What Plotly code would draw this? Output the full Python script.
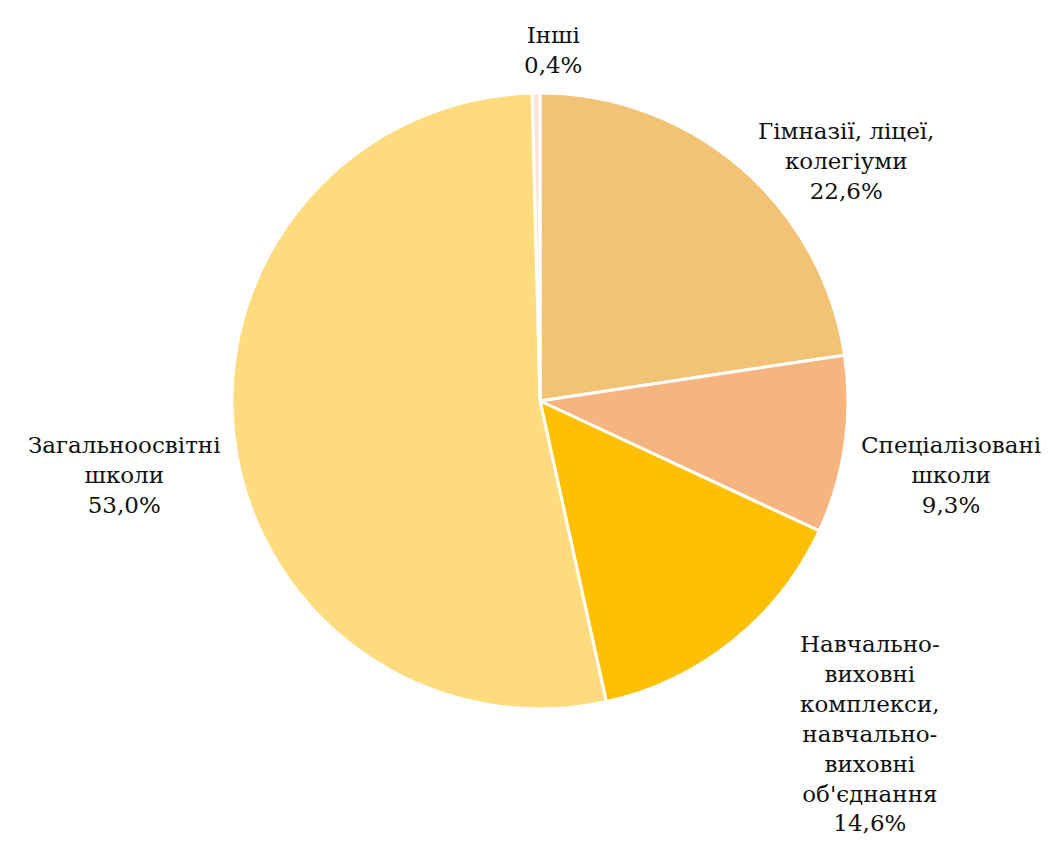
import plotly.graph_objects as go

labels = ["Гімназії, ліцеї,<br>колегіуми", "Спеціалізовані<br>школи",
          "Навчально-<br>виховні<br>комплекси,<br>навчально-<br>виховні<br>об'єднання",
          "Загальноосвітні<br>школи", "Інші"]
values = [22.6, 9.3, 14.6, 53.0, 0.4]
colors = ["#F2C275", "#F6B47F", "#FEC000", "#FEDB7E", "#FBE5D6"]

label_pos = [(838, 153), (943, 467), (862, 725), (117, 467), (545, 42)]

W, H = 1052, 857
cx, cy, r = 532, 393, 308

fig = go.Figure(go.Pie(
    labels=labels, values=values, sort=False, direction="clockwise", rotation=0,
    marker=dict(colors=colors, line=dict(color="white", width=3)),
    textinfo="none", hoverinfo="label+percent", showlegend=False,
    domain=dict(x=[(cx - r) / W, (cx + r) / W], y=[1 - (cy + r) / H, 1 - (cy - r) / H]),
))

for lab, v, (px, py) in zip(labels, values, label_pos):
    txt = lab + "<br>" + f"{v:.1f}".replace(".", ",") + "%"
    fig.add_annotation(x=px / W, y=1 - py / H, xref="paper", yref="paper",
                       text=txt, showarrow=False, xanchor="center", yanchor="middle",
                       align="center",
                       font=dict(family="DejaVu Serif", size=23, color="#111111"))

fig.update_layout(width=W, height=H, margin=dict(l=0, r=0, t=0, b=0),
                  paper_bgcolor="white", plot_bgcolor="white")
fig.write_html("out.html")
